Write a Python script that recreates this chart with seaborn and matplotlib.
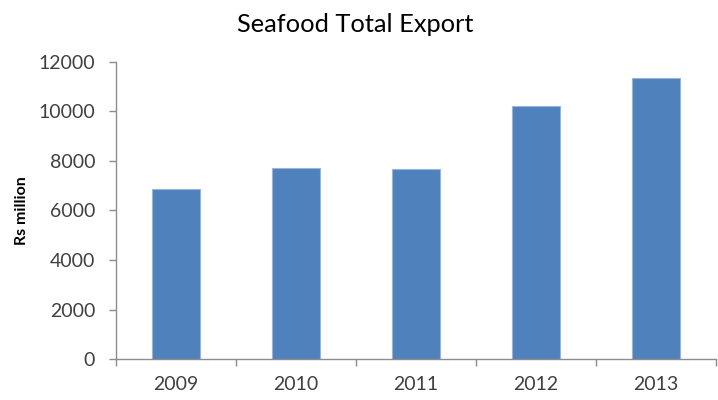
import matplotlib
matplotlib.use("Agg")
import matplotlib.pyplot as plt
import seaborn as sns
import pandas as pd
import numpy as np

years = ["2009", "2010", "2011", "2012", "2013"]
exports = [6855, 7710, 7660, 10210, 11330]
y_ticks = [0, 2000, 4000, 6000, 8000, 10000, 12000]

sns.set_theme(style="white")
plt.rcParams["font.family"] = ["Lato", "DejaVu Sans"]

text_color = "#404040"
axis_color = "#8c8c8c"
bar_color = "#4f81bd"

df = pd.DataFrame({"year": years, "export": exports})

fig = plt.figure(figsize=(7.18, 4.0), dpi=100)
ax = fig.add_axes([116 / 718, 1 - 359.3 / 400, 600 / 718, (359.3 - 61.7) / 400])

sns.barplot(data=df, x="year", y="export", color=bar_color, saturation=1,
            width=0.4, edgecolor="#9bb5d8", linewidth=0.8, ax=ax)

ax.set_xlim(-0.5, len(years) - 0.5)
ax.set_ylim(0, 12000)
ax.set_yticks(y_ticks)
ax.set_yticklabels([str(v) for v in y_ticks])

# category boundaries carry the tick marks; labels sit at the centres
ax.set_xticks(np.arange(len(years)))
ax.set_xticklabels(years)
ax.set_xticks(np.arange(len(years) + 1) - 0.5, minor=True)
ax.tick_params(axis="x", which="major", length=0, pad=12, labelsize=14, labelcolor=text_color)
ax.tick_params(axis="x", which="minor", bottom=True, length=5, width=1, color=axis_color, direction="out")
ax.tick_params(axis="y", left=True, length=5, width=1, color=axis_color, direction="out",
               pad=10, labelsize=14, labelcolor=text_color)

for side in ("top", "right"):
    ax.spines[side].set_visible(False)
for side in ("left", "bottom"):
    ax.spines[side].set_color(axis_color)
    ax.spines[side].set_linewidth(1)

ax.set_xlabel("")
ax.set_ylabel("Rs million", fontsize=11.5, fontweight="bold", color="#000000", labelpad=7)

fig.text(355 / 718, 1 - 25 / 400, "Seafood Total Export", ha="center", va="center",
         fontsize=18.3, color="#000000")

fig.savefig("out.png", dpi=100, facecolor="white")
